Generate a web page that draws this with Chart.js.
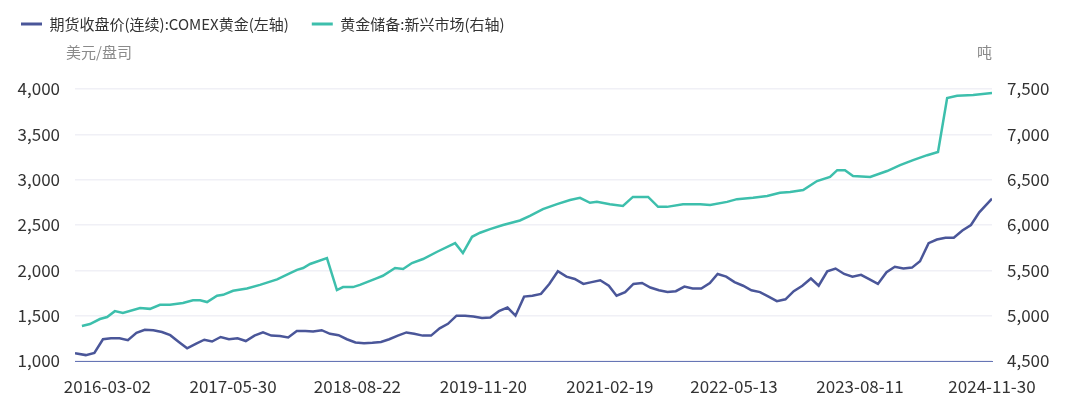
<!DOCTYPE html>
<html>
<head>
<meta charset="utf-8">
<script src="https://cdn.jsdelivr.net/npm/chart.js@4"></script>
<style>
  html, body { margin: 0; padding: 0; background: #fff; }
  #wrap { width: 1066px; height: 396px; }
</style>
</head>
<body>
<div id="wrap"><canvas id="goldChart"></canvas></div>
<script>
const seriesNames = ['期货收盘价(连续):COMEX黄金(左轴)', '黄金储备:新兴市场(右轴)'];
const axisNames = ['美元/盘司', '吨'];
const xTickDates = ['2016-03-02', '2017-05-30', '2018-08-22', '2019-11-20',
  '2021-02-19', '2022-05-13', '2023-08-11', '2024-11-30'];
const xStart = '2015-11-06';
const xEnd = '2024-11-30';

// COMEX gold close, about one reading per month, Nov 2015 .. Nov 2024
const goldPrice = [1085, 1065, 1090, 1240, 1250, 1250, 1230, 1310, 1345, 1340,
  1320, 1285, 1210, 1140, 1190, 1235, 1215, 1265, 1240, 1250,
  1220, 1280, 1315, 1280, 1275, 1260, 1330, 1330, 1325, 1340,
  1300, 1285, 1240, 1205, 1195, 1200, 1210, 1240, 1280, 1315,
  1300, 1280, 1280, 1360, 1410, 1500, 1500, 1490, 1475, 1480,
  1550, 1590, 1500, 1710, 1720, 1740, 1850, 1990, 1930, 1905,
  1850, 1870, 1890, 1830, 1720, 1760, 1850, 1860, 1810, 1780,
  1760, 1770, 1820, 1800, 1800, 1860, 1960, 1930, 1870, 1830,
  1780, 1760, 1710, 1660, 1680, 1770, 1830, 1910, 1830, 1990,
  2020, 1960, 1930, 1950, 1900, 1850, 1980, 2040, 2020, 2030,
  2100, 2300, 2340, 2360, 2360, 2440, 2500, 2640, 2790];

// emerging market gold reserves (tons)
const reserveDates = ['2015-12-01', '2015-12-30', '2016-02-04', '2016-03-01', '2016-03-29', '2016-04-27',
  '2016-06-28', '2016-08-03', '2016-09-08', '2016-10-14', '2016-11-30', '2017-01-05', '2017-01-31',
  '2017-02-25', '2017-04-02', '2017-04-24', '2017-05-30', '2017-07-19', '2017-09-04', '2017-11-05',
  '2017-12-22', '2018-01-16', '2018-02-07', '2018-03-04', '2018-05-04', '2018-06-09', '2018-07-01',
  '2018-08-06', '2018-08-31', '2018-11-01', '2018-11-22', '2019-01-05', '2019-02-03', '2019-03-07',
  '2019-04-16', '2019-06-06', '2019-08-10', '2019-09-07', '2019-10-10', '2019-11-08', '2019-12-14',
  '2020-01-30', '2020-03-31', '2020-05-06', '2020-06-22', '2020-08-12', '2020-09-28', '2020-11-03',
  '2020-12-09', '2021-01-03', '2021-02-19', '2021-04-07', '2021-05-13', '2021-07-07', '2021-08-12',
  '2021-09-13', '2021-11-10', '2022-01-11', '2022-02-16', '2022-04-18', '2022-05-24', '2022-07-21',
  '2022-09-10', '2022-10-26', '2022-12-02', '2023-01-18', '2023-03-09', '2023-04-25', '2023-05-21',
  '2023-06-18', '2023-07-17', '2023-09-17', '2023-11-17', '2024-01-03', '2024-02-19', '2024-04-10',
  '2024-05-19', '2024-06-21', '2024-07-27', '2024-09-23', '2024-11-30'];
const reserveTons = [4886, 4908, 4963, 4985, 5050, 5030, 5085, 5075, 5120, 5120,
  5140, 5170, 5170, 5150, 5220, 5230, 5275, 5300, 5340, 5400,
  5470, 5505, 5525, 5570, 5635, 5283, 5315, 5315, 5340, 5415,
  5440, 5525, 5515, 5580, 5625, 5705, 5800, 5690, 5870, 5915,
  5955, 6000, 6050, 6100, 6175, 6230, 6275, 6300, 6245, 6255,
  6230, 6210, 6310, 6310, 6200, 6200, 6230, 6230, 6220, 6255,
  6285, 6300, 6320, 6355, 6365, 6385, 6485, 6530, 6605, 6605,
  6540, 6530, 6595, 6660, 6715, 6770, 6805, 7400, 7425, 7435, 7455];

const FONT = "'Noto Sans CJK SC', 'Noto Sans', sans-serif";
const NAVY = '#4a5699';
const TEAL = '#3dbfac';

function dayNum(s) {
  const [y, m, d] = s.split('-').map(Number);
  return Date.UTC(y, m - 1, d) / 86400000;
}
function fmtDay(v) {
  return new Date(v * 86400000).toISOString().slice(0, 10);
}

// monthly dates for the gold series (mid-month), first/last pinned to range ends
const goldDates = goldPrice.map((_, i) => fmtDay(Date.UTC(2015, 10 + i, 15) / 86400000));
goldDates[0] = xStart;
goldDates[goldDates.length - 1] = xEnd;

const goldData = goldPrice.map((v, i) => ({ x: dayNum(goldDates[i]), y: v }));
const reserveData = reserveTons.map((v, i) => ({ x: dayNum(reserveDates[i]), y: v }));

const axisNamePlugin = {
  id: 'axisNames',
  beforeInit(chart) {
    const fit = chart.legend.fit;
    chart.legend.fit = function () {
      fit.bind(this)();
      this.height += 47.5;
    };
  },
  afterDraw(chart) {
    const { ctx, chartArea } = chart;
    ctx.save();
    ctx.font = '15px ' + FONT;
    ctx.fillStyle = '#8a8a8a';
    ctx.textBaseline = 'middle';
    ctx.textAlign = 'left';
    ctx.fillText(axisNames[0], chartArea.left - 9, chartArea.top - 37);
    ctx.textAlign = 'right';
    ctx.fillText(axisNames[1], chartArea.right, chartArea.top - 37);
    ctx.restore();
  }
};

const numFmt = v => Number(v).toLocaleString('en-US');

new Chart(document.getElementById('goldChart'), {
  type: 'line',
  data: {
    datasets: [{
      label: seriesNames[0],
      data: goldData,
      borderColor: NAVY,
      backgroundColor: NAVY,
      borderWidth: 2.5,
      pointRadius: 0,
      tension: 0,
      yAxisID: 'y'
    }, {
      label: seriesNames[1],
      data: reserveData,
      borderColor: TEAL,
      backgroundColor: TEAL,
      borderWidth: 2.5,
      pointRadius: 0,
      tension: 0,
      yAxisID: 'y2'
    }]
  },
  options: {
    responsive: true,
    maintainAspectRatio: false,
    animation: false,
    layout: { padding: { left: -2, right: 0, top: -6.5, bottom: 0 } },
    plugins: {
      tooltip: { enabled: false },
      legend: {
        position: 'top',
        align: 'start',
        labels: {
          boxWidth: 21,
          boxHeight: 3,
          padding: 23,
          color: '#333',
          font: { size: 15, family: FONT },
          generateLabels: chart => chart.data.datasets.map((ds, i) => ({
            text: ds.label,
            fillStyle: ds.borderColor,
            strokeStyle: ds.borderColor,
            lineWidth: 0,
            hidden: false,
            datasetIndex: i,
            fontColor: '#333'
          }))
        }
      }
    },
    scales: {
      x: {
        type: 'linear',
        min: dayNum(xStart),
        max: dayNum(xEnd),
        afterBuildTicks: scale => {
          scale.ticks = xTickDates.map(s => ({ value: dayNum(s) }));
        },
        afterFit: scale => { scale.height = 35; },
        grid: { display: false },
        border: { display: true, color: '#6675b5', width: 1 },
        ticks: {
          autoSkip: false,
          maxRotation: 0,
          padding: 7,
          color: '#333',
          font: { size: 17, family: FONT },
          callback: v => fmtDay(v)
        }
      },
      y: {
        position: 'left',
        min: 1000,
        max: 4000,
        afterFit: scale => { scale.width = 77; },
        grid: { color: '#f0f0f6', lineWidth: 1.5, drawTicks: false },
        border: { display: false },
        ticks: {
          stepSize: 500,
          padding: 15,
          color: '#333',
          font: { size: 17, family: FONT },
          callback: numFmt
        }
      },
      y2: {
        position: 'right',
        min: 4500,
        max: 7500,
        afterFit: scale => { scale.width = 74; },
        grid: { display: false, drawTicks: false },
        border: { display: false },
        ticks: {
          stepSize: 500,
          padding: 15,
          color: '#333',
          font: { size: 17, family: FONT },
          callback: numFmt
        }
      }
    }
  },
  plugins: [axisNamePlugin]
});
</script>
</body>
</html>
